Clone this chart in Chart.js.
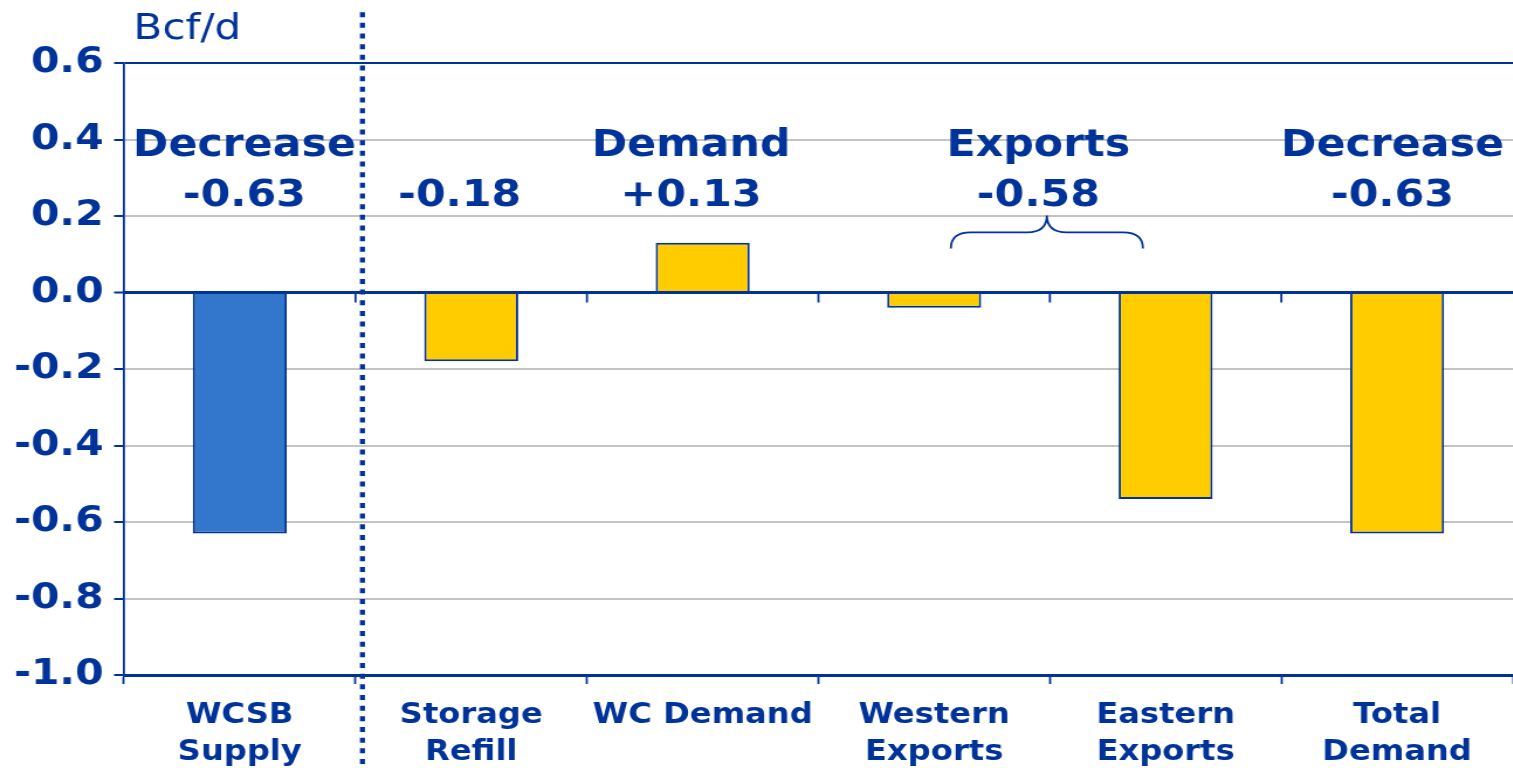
<!DOCTYPE html>
<html>
<head>
<meta charset="utf-8">
<title>WCSB supply and demand changes</title>
<script src="https://cdn.jsdelivr.net/npm/chart.js@4/dist/chart.umd.min.js"></script>
<style>
  html, body { margin: 0; padding: 0; background: #ffffff; overflow: hidden; }
  /* the chart is laid out narrow and widened horizontally as a whole */
  #stage { width: 1293px; height: 768px; transform: scaleX(1.17); transform-origin: 0 0; }
</style>
</head>
<body>
<div id="stage"><canvas id="chart"></canvas></div>
<script>
// Categories on the x axis (multi-line labels)
const categories = [
  ['WCSB', 'Supply'],
  ['Storage', 'Refill'],
  'WC Demand',
  ['Western', 'Exports'],
  ['Eastern', 'Exports'],
  ['Total', 'Demand']
];

// Change in each component, Bcf/d
const changeValues = [-0.63, -0.18, 0.13, -0.04, -0.54, -0.63];

// Value axis ticks
const yTickValues = [-1.0, -0.8, -0.6, -0.4, -0.2, 0.0, 0.2, 0.4, 0.6];
const unitLabel = 'Bcf/d';

// Callout headings and the bars each callout sums
const calloutHeads = ['Decrease', '', 'Demand', 'Exports', 'Decrease'];
const calloutMembers = [[0], [1], [2], [3, 4], [5]];
// Callout anchors, in category-index units
const calloutAnchors = [0.02, 0.95, 1.95, 3.45, 4.98];

const NAVY = '#003399';
const GRID = '#c4c4c4';
const barColors = ['#3377cc', '#ffcc00', '#ffcc00', '#ffcc00', '#ffcc00', '#ffcc00'];
const FONT = '"DejaVu Sans", Verdana, sans-serif';

function fmtChange(v) {
  const r = Math.round(v * 100) / 100;
  return (r > 0 ? '+' : '') + r.toFixed(2);
}

const overlay = {
  id: 'overlay',
  afterDatasetsDraw(chart) {
    const { ctx, chartArea, scales: { x, y } } = chart;
    ctx.save();

    // zero line over the bars
    const y0 = y.getPixelForValue(0);
    ctx.strokeStyle = NAVY;
    ctx.lineWidth = 3;
    ctx.beginPath();
    ctx.moveTo(chartArea.left, y0);
    ctx.lineTo(chartArea.right, y0);
    ctx.stroke();

    // short ticks hanging under the zero line at category boundaries
    ctx.lineWidth = 1.8;
    for (let i = 0; i < categories.length - 1; i++) {
      const bx = x.getPixelForValue(i + 0.5);
      ctx.beginPath();
      ctx.moveTo(bx, y0);
      ctx.lineTo(bx, y0 + 10);
      ctx.stroke();
    }

    // dotted separator between supply and demand
    const sx = x.getPixelForValue(0.53);
    ctx.setLineDash([5, 5.67]);
    ctx.lineWidth = 4.3;
    ctx.beginPath();
    ctx.moveTo(sx, y.getPixelForValue(0.733));
    ctx.lineTo(sx, chart.height);
    ctx.stroke();
    ctx.setLineDash([]);

    // unit label
    ctx.fillStyle = NAVY;
    ctx.textAlign = 'left';
    ctx.textBaseline = 'alphabetic';
    ctx.font = '36px ' + FONT;
    ctx.fillText(unitLabel, chartArea.left + 8, y.getPixelForValue(0.662));

    // callouts
    ctx.font = 'bold 36.5px ' + FONT;
    ctx.textAlign = 'center';
    const headY = y.getPixelForValue(0.357);
    const valY = y.getPixelForValue(0.226);
    calloutHeads.forEach((head, i) => {
      const cx = x.getPixelForValue(calloutAnchors[i]);
      const total = calloutMembers[i].reduce((s, k) => s + changeValues[k], 0);
      if (head) ctx.fillText(head, cx, headY);
      ctx.fillText(fmtChange(total), cx, valY);
    });

    // brace over the two export bars
    const bc = x.getPixelForValue(3.487);
    const bl = x.getPixelForValue(3.072);
    const br = x.getPixelForValue(3.902);
    const yEnd = y.getPixelForValue(0.115);
    const yMid = y.getPixelForValue(0.157);
    const yTip = y.getPixelForValue(0.201);
    const r = yEnd - yMid;
    const rx = r * 1.05;
    ctx.lineWidth = 1.8;
    ctx.beginPath();
    ctx.moveTo(bl, yEnd);
    ctx.quadraticCurveTo(bl, yMid, bl + rx, yMid);
    ctx.lineTo(bc - rx, yMid);
    ctx.quadraticCurveTo(bc, yMid, bc, yTip);
    ctx.quadraticCurveTo(bc, yMid, bc + rx, yMid);
    ctx.lineTo(br - rx, yMid);
    ctx.quadraticCurveTo(br, yMid, br, yEnd);
    ctx.stroke();

    ctx.restore();
  }
};

new Chart(document.getElementById('chart'), {
  type: 'bar',
  data: {
    labels: categories,
    datasets: [{
      data: changeValues,
      backgroundColor: barColors,
      borderColor: NAVY,
      borderWidth: 2,
      borderSkipped: 'start',
      categoryPercentage: 1.0,
      barPercentage: 0.406
    }]
  },
  options: {
    responsive: true,
    maintainAspectRatio: false,
    animation: false,
    layout: { padding: { top: 63, right: 0, bottom: 0, left: 0 } },
    plugins: {
      legend: { display: false },
      tooltip: { enabled: false },
      title: { display: false }
    },
    scales: {
      x: {
        offset: true,
        afterFit(scale) { scale.height = 93; },
        grid: {
          offset: true,
          drawOnChartArea: false,
          drawTicks: true,
          tickLength: 9,
          tickColor: NAVY,
          tickWidth: 1.8
        },
        border: { color: NAVY, width: 3 },
        ticks: {
          color: NAVY,
          padding: 14,
          maxRotation: 0,
          autoSkip: false,
          font: { family: FONT, size: 27.5, weight: 'bold', lineHeight: 1.33 }
        }
      },
      y: {
        min: -1.0,
        max: 0.6,
        afterFit(scale) { scale.width = 106; },
        afterBuildTicks(scale) { scale.ticks = yTickValues.map(v => ({ value: v })); },
        grid: {
          color(ctx) {
            const v = ctx.tick ? ctx.tick.value : null;
            return (v === 0 || v === 0.6 || v === -1.0) ? NAVY : GRID;
          },
          lineWidth(ctx) {
            const v = ctx.tick ? ctx.tick.value : null;
            return v === 0 ? 3 : 2;
          },
          tickColor: NAVY,
          tickLength: 8.5,
          tickWidth: 2
        },
        border: { color: NAVY, width: 1.8 },
        ticks: {
          color: NAVY,
          padding: 9,
          font: { family: FONT, size: 35, weight: 'bold' },
          callback(value) { return Number(value).toFixed(1); }
        }
      }
    }
  },
  plugins: [overlay]
});
</script>
</body>
</html>
